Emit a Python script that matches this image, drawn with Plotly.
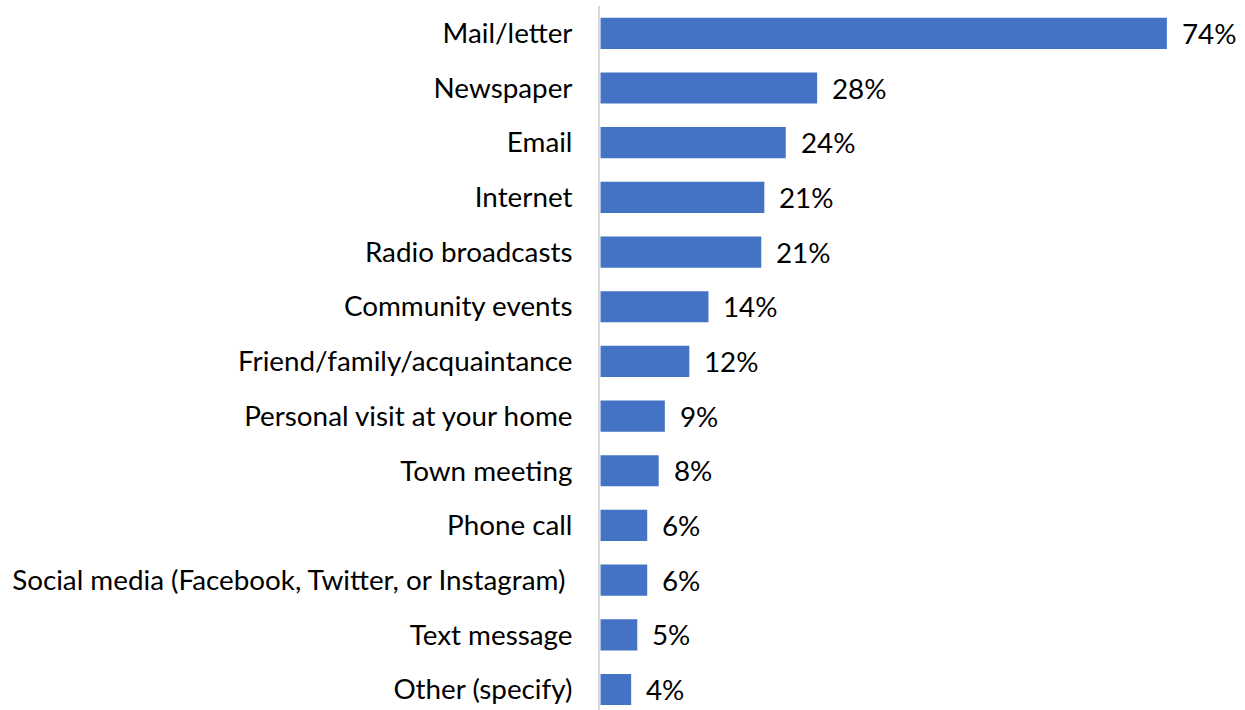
import plotly.graph_objects as go

categories = [
    "Mail/letter",
    "Newspaper",
    "Email",
    "Internet",
    "Radio broadcasts",
    "Community events",
    "Friend/family/acquaintance",
    "Personal visit at your home",
    "Town meeting",
    "Phone call",
    "Social media (Facebook, Twitter, or Instagram)\u00a0",
    "Text message",
    "Other (specify)",
]
values = [74.0, 28.3, 24.2, 21.4, 21.0, 14.1, 11.6, 8.4, 7.6, 6.1, 6.1, 4.8, 4.0]
labels = ["74%", "28%", "24%", "21%", "21%", "14%", "12%", "9%", "8%", "6%", "6%", "5%", "4%"]

FONT = "Lato"
FSIZE = 27.8
fig = go.Figure()
fig.add_trace(go.Bar(
    x=values,
    y=categories,
    orientation="h",
    width=0.57,
    marker=dict(color="#4472C4", line=dict(width=0)),
    hoverinfo="skip",
))

for v, c, t in zip(values, categories, labels):
    fig.add_annotation(
        x=v, y=c, text=t, showarrow=False,
        xanchor="left", yanchor="middle", xshift=13,
        font=dict(family=FONT, size=FSIZE, color="#000000"),
    )

fig.update_layout(
    width=1245,
    height=710,
    margin=dict(l=600, r=0, t=6, b=0, pad=0),
    paper_bgcolor="white",
    plot_bgcolor="white",
    showlegend=False,
    font=dict(family=FONT, size=FSIZE, color="#000000"),
)
fig.update_xaxes(
    range=[-0.07, 645 / 7.66],
    showgrid=False,
    zeroline=False,
    showticklabels=False,
    showline=False,
)
fig.update_yaxes(
    categoryorder="array",
    categoryarray=categories,
    range=[12.375, -0.5],
    showgrid=False,
    zeroline=False,
    showline=True,
    linecolor="#D9D9D9",
    linewidth=2,
    ticks="",
    ticklabelstandoff=20,
    tickfont=dict(family=FONT, size=FSIZE, color="#000000"),
)

fig.write_html(
    "out.html",
    config={"displayModeBar": False},
    post_script="document.body.style.margin='0';document.body.style.padding='0';",
)
